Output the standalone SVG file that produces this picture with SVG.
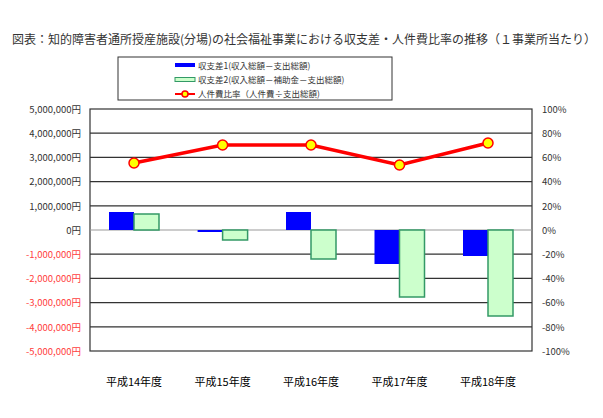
<svg xmlns="http://www.w3.org/2000/svg" width="603" height="418" viewBox="0 0 603 418">
<style>
text{font-family:"Noto Sans CJK JP","Liberation Sans",sans-serif;fill:#333}
.l{font-size:9.5px;text-anchor:end}
.n{fill:#ff4040}
.r{font-size:9.5px}
.c{font-size:11px;text-anchor:middle;fill:#000}
.g{stroke:#333;stroke-width:1.2}
.b{fill:#0000ff}
.gr{fill:#ccffcc;stroke:#339966;stroke-width:1.5}
.d{fill:#ffff00;stroke:#ff0000;stroke-width:1.5}
</style>
<rect width="603" height="418" fill="#fff"/>
<text x="12" y="44" font-size="12" fill="#000">図表：知的障害者通所授産施設(分場)の社会福祉事業における収支差・人件費比率の推移（１事業所当たり）</text>
<g id="legend">
<rect x="118" y="57" width="274" height="43" fill="#fff" stroke="#333"/>
<rect x="175" y="63" width="20" height="4" fill="#0000ff"/>
<text x="198" y="69" font-size="8.5">収支差1(収入総額－支出総額)</text>
<rect x="175" y="77.5" width="20" height="4" fill="#ccffcc" stroke="#339966"/>
<text x="198" y="83" font-size="8.5">収支差2(収入総額－補助金－支出総額)</text>
<line x1="175" y1="94" x2="195" y2="94" stroke="#f00" stroke-width="2"/>
<circle cx="185" cy="94" r="3" class="d"/>
<text x="198" y="97" font-size="8.5">人件費比率（人件費÷支出総額)</text>
</g>
<g id="grid">
<rect x="90" y="109" width="442" height="242" fill="none" stroke="#333" stroke-width="1.2"/>
<path class="g" d="M90 133.2H532M90 157.4H532M90 181.6H532M90 205.8H532M90 254.2H532M90 278.4H532M90 302.6H532M90 326.8H532"/>
<path d="M90 230H532" stroke="#999" stroke-width="1.2"/>
</g>
<g id="axes">
<text class="l" x="81" y="113">5,000,000円</text>
<text class="l" x="81" y="137">4,000,000円</text>
<text class="l" x="81" y="161">3,000,000円</text>
<text class="l" x="81" y="185">2,000,000円</text>
<text class="l" x="81" y="210">1,000,000円</text>
<text class="l" x="81" y="234">0円</text>
<text class="l n" x="81" y="258">-1,000,000円</text>
<text class="l n" x="81" y="282">-2,000,000円</text>
<text class="l n" x="81" y="306">-3,000,000円</text>
<text class="l n" x="81" y="331">-4,000,000円</text>
<text class="l n" x="81" y="355">-5,000,000円</text>
<text class="r" x="542" y="113">100%</text>
<text class="r" x="542" y="137">80%</text>
<text class="r" x="542" y="161">60%</text>
<text class="r" x="542" y="185">40%</text>
<text class="r" x="542" y="210">20%</text>
<text class="r" x="542" y="234">0%</text>
<text class="r" x="542" y="258">-20%</text>
<text class="r" x="542" y="282">-40%</text>
<text class="r" x="542" y="306">-60%</text>
<text class="r" x="542" y="331">-80%</text>
<text class="r" x="542" y="355">-100%</text>
<text class="c" x="134" y="386">平成14年度</text>
<text class="c" x="222.6" y="386">平成15年度</text>
<text class="c" x="311" y="386">平成16年度</text>
<text class="c" x="399.5" y="386">平成17年度</text>
<text class="c" x="488" y="386">平成18年度</text>
</g>
<g id="bars">
<rect class="b" x="109" y="212" width="25" height="18"/>
<rect class="gr" x="134" y="214" width="25" height="16"/>
<rect class="b" x="197.6" y="230" width="25" height="2"/>
<rect class="gr" x="222.6" y="230" width="25" height="10"/>
<rect class="b" x="286" y="212" width="25" height="18"/>
<rect class="gr" x="311" y="230" width="25" height="29"/>
<rect class="b" x="374.5" y="230" width="25" height="34"/>
<rect class="gr" x="399.5" y="230" width="25" height="67"/>
<rect class="b" x="463" y="230" width="25" height="26"/>
<rect class="gr" x="488" y="230" width="25" height="86"/>
</g>
<g id="connectors">
<polyline points="134,163 222.6,145 311,145 399.5,165 488,143" fill="none" stroke="#f00" stroke-width="3.5"/>
<circle class="d" cx="134" cy="163" r="5"/>
<circle class="d" cx="222.6" cy="145" r="5"/>
<circle class="d" cx="311" cy="145" r="5"/>
<circle class="d" cx="399.5" cy="165" r="5"/>
<circle class="d" cx="488" cy="143" r="5"/>
</g>
</svg>
